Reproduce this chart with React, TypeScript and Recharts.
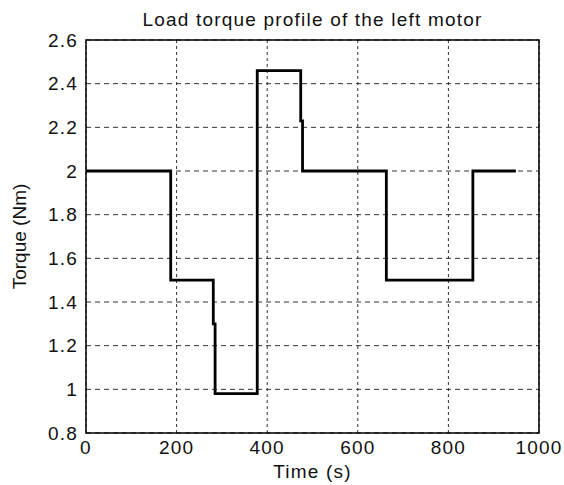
import { LineChart, Line, XAxis, YAxis, CartesianGrid, ReferenceArea } from 'recharts';

// step profile (s, Nm)
const times = [0, 187, 187, 281, 281, 285, 285, 378, 378, 474, 474, 478, 478, 663, 663, 854, 854, 949];
const torque = [2, 2, 1.5, 1.5, 1.3, 1.3, 0.98, 0.98, 2.46, 2.46, 2.23, 2.23, 2, 2, 1.5, 1.5, 2, 2];

const xTicks = [0, 200, 400, 600, 800, 1000];
const yTicks = [0.8, 1, 1.2, 1.4, 1.6, 1.8, 2, 2.2, 2.4, 2.6];

const data = times.map((t, i) => ({ t, torque: torque[i] }));

const font = '"Liberation Sans", Arial, sans-serif';
const tickStyle = { fill: '#111', fontSize: 19, fontFamily: font, letterSpacing: 1.2 };

const App = () => {
  return (
    <div style={{ position: 'fixed', left: 0, top: 0, width: 564, height: 485, background: '#fff' }}>
      <div
        style={{
          position: 'absolute', left: 86, top: 10, width: 453, textAlign: 'center',
          fontFamily: font, fontSize: 19, lineHeight: '19px', letterSpacing: 1.2, color: '#111', whiteSpace: 'nowrap',
        }}
      >
        Load torque profile of the left motor
      </div>
      <LineChart width={564} height={485} data={data} margin={{ top: 40, right: 25, bottom: 0, left: 8 }}>
        <CartesianGrid vertical={false} stroke="#333" strokeDasharray="5 4" />
        <CartesianGrid horizontal={false} stroke="#333" strokeDasharray="3 3" />
        <XAxis
          dataKey="t"
          type="number"
          domain={[0, 1000]}
          ticks={xTicks}
          height={52}
          tickLine={false}
          axisLine={false}
          tick={tickStyle}
          label={{ value: 'Time (s)', position: 'insideBottom', offset: 7, fill: '#111', fontSize: 19, fontFamily: font, letterSpacing: 1.2 }}
        />
        <YAxis
          domain={[0.8, 2.6]}
          ticks={yTicks}
          width={78}
          tickLine={false}
          axisLine={false}
          tick={tickStyle}
          label={{ value: 'Torque (Nm)', angle: -90, position: 'insideLeft', offset: 11, textAnchor: 'middle', fill: '#111', fontSize: 19, fontFamily: font }}
        />
        <ReferenceArea x1={0} x2={1000} y1={0.8} y2={2.6} fill="none" stroke="#000" strokeWidth={1.5} ifOverflow="visible" />
        <Line type="linear" dataKey="torque" stroke="#000" strokeWidth={2.8} dot={false} isAnimationActive={false} />
      </LineChart>
    </div>
  );
};

export default App;
